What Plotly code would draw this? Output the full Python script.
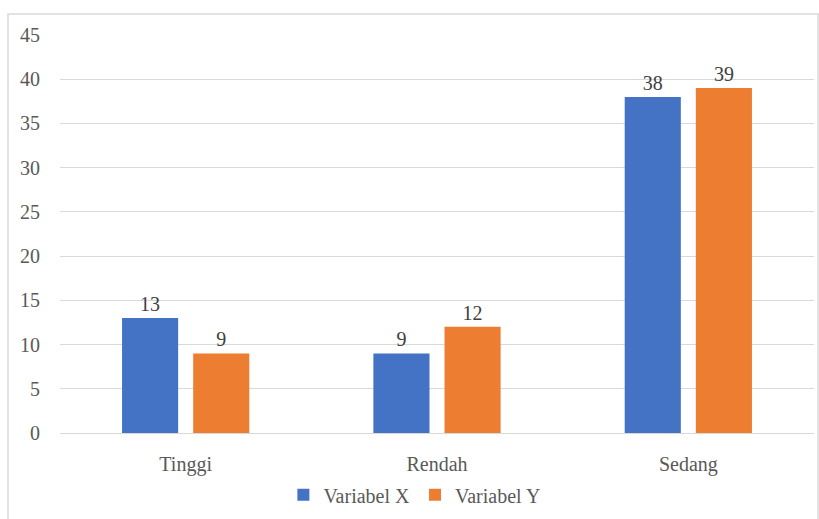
import plotly.graph_objects as go

categories = ["Tinggi", "Rendah", "Sedang"]
variabel_x = [13, 9, 38]
variabel_y = [9, 12, 39]
series_names = ["Variabel X", "Variabel Y"]
y_ticks = [0, 5, 10, 15, 20, 25, 30, 35, 40, 45]

FONT = "Liberation Serif, Times New Roman, serif"
BLUE = "#4472C4"
ORANGE = "#ED7D31"
FS = 20

fig = go.Figure()
for name, vals, color in [(series_names[0], variabel_x, BLUE), (series_names[1], variabel_y, ORANGE)]:
    fig.add_trace(go.Bar(
        x=categories, y=vals, name=name,
        marker=dict(color=color, line=dict(width=0)),
        text=[str(v) for v in vals], textposition="outside",
        textfont=dict(family=FONT, size=FS, color="#404040"),
        cliponaxis=False,
    ))

fig.update_layout(
    width=819, height=519,
    margin=dict(l=60, r=5, t=35, b=84),
    paper_bgcolor="white", plot_bgcolor="white",
    barmode="group", bargap=0.434, bargroupgap=0.211,
    font=dict(family=FONT, color="#595959"),
    showlegend=True,
    legend=dict(orientation="h", x=0.47, xanchor="center", y=-0.155, yanchor="middle",
                font=dict(family=FONT, size=FS, color="#595959"),
                itemwidth=30, traceorder="normal"),
    xaxis=dict(showgrid=False, showline=False, ticks="outside", ticklen=13,
               tickcolor="rgba(0,0,0,0)", tickfont=dict(family=FONT, size=FS, color="#595959")),
    yaxis=dict(range=[0, 45], tickvals=y_ticks, showgrid=True, gridcolor="#D9D9D9", gridwidth=1.3,
               zeroline=True, zerolinecolor="#D9D9D9", zerolinewidth=1.3, showline=False,
               ticks="outside", ticklen=15, tickcolor="rgba(0,0,0,0)",
               tickfont=dict(family=FONT, size=FS, color="#595959")),
    shapes=[dict(type="rect", xref="paper", yref="paper",
                 x0=(8 - 60) / 754, x1=(818 - 60) / 754,
                 y0=-0.3, y1=1 + (35 - 14) / 400,
                 line=dict(color="#D9D9D9", width=1.5), fillcolor="rgba(0,0,0,0)", layer="below")],
)

fig.write_html("out.html")
